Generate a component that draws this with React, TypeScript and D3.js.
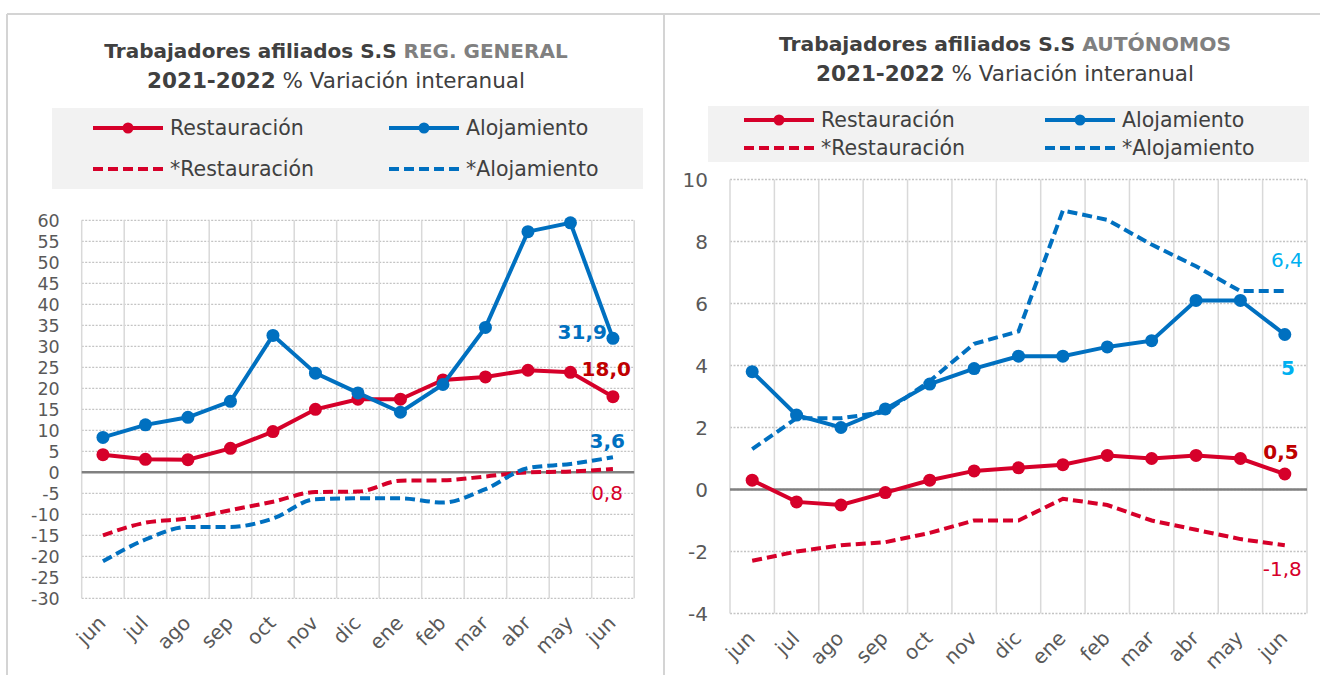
import React from 'react';
import * as d3 from 'd3';

// meses jun 2021 - jun 2022
const months = ['jun', 'jul', 'ago', 'sep', 'oct', 'nov', 'dic', 'ene', 'feb', 'mar', 'abr', 'may', 'jun'];

// REG. GENERAL
const genRestauracion = [4.2, 3.1, 3.0, 5.7, 9.7, 15.0, 17.4, 17.4, 22.0, 22.7, 24.3, 23.8, 18.0];
const genAlojamiento = [8.3, 11.3, 13.1, 16.9, 32.6, 23.6, 18.9, 14.3, 20.9, 34.5, 57.3, 59.4, 31.9];
const genRestauracionStar = [-15.0, -12.0, -11.0, -9.0, -7.0, -4.7, -4.6, -2.0, -1.9, -1.0, 0.0, 0.2, 0.8];
const genAlojamientoStar = [-21.2, -16.0, -13.0, -13.0, -11.0, -6.4, -6.2, -6.2, -7.2, -4.0, 1.0, 2.0, 3.6];
const genTicks = d3.range(-30, 61, 5);

// AUTÓNOMOS
const autRestauracion = [0.3, -0.4, -0.5, -0.1, 0.3, 0.6, 0.7, 0.8, 1.1, 1.0, 1.1, 1.0, 0.5];
const autAlojamiento = [3.8, 2.4, 2.0, 2.6, 3.4, 3.9, 4.3, 4.3, 4.6, 4.8, 6.1, 6.1, 5.0];
const autRestauracionStar = [-2.3, -2.0, -1.8, -1.7, -1.4, -1.0, -1.0, -0.3, -0.5, -1.0, -1.3, -1.6, -1.8];
const autAlojamientoStar = [1.3, 2.3, 2.3, 2.5, 3.5, 4.7, 5.1, 9.0, 8.7, 7.9, 7.2, 6.4, 6.4];
const autTicks = d3.range(-4, 11, 2);

const RED = '#d6002a';
const DARKRED = '#c00000';
const BLUE = '#0070c0';
const LIGHTBLUE = '#00b0f0';
const TXT = '#404040';
const FONT = '"DejaVu Sans", sans-serif';

const fmt = (v, dec) => v.toFixed(dec).replace('.', ',');

function Chart({ cx, titleGray, titleY, titleSize, legend, plot, domain, ticks, tickSize, series, labels, smoothDashed }) {
  const x = d3.scaleBand().domain(d3.range(months.length)).range([plot.left, plot.right]);
  const y = d3.scaleLinear().domain(domain).range([plot.bottom, plot.top]);
  const px = (i) => x(i) + x.bandwidth() / 2;

  const lineFor = (dashed) =>
    d3
      .line()
      .x((d, i) => px(i))
      .y((d) => y(d))
      .curve(dashed && smoothDashed ? d3.curveMonotoneX : d3.curveLinear);

  const last = months.length - 1;

  return (
    <g fontFamily={FONT}>
      {/* title */}
      <text x={cx} y={titleY[0]} textAnchor="middle" fontSize={titleSize[0]} fontWeight="bold" fill={TXT}>
        Trabajadores afiliados S.S <tspan fill="#808080">{titleGray}</tspan>
      </text>
      <text x={cx} y={titleY[1]} textAnchor="middle" fontSize={titleSize[1]} fill={TXT}>
        <tspan fontWeight="bold">2021-2022</tspan> % Variación interanual
      </text>

      {/* legend */}
      <rect x={legend.x} y={legend.y} width={legend.w} height={legend.h} fill="#f2f2f2" />
      {series.map((s, k) => {
        const col = k % 2;
        const row = Math.floor(k / 2);
        const lx = legend.cols[col];
        const ly = legend.rows[row];
        return (
          <g key={'lg' + k}>
            <line
              x1={lx}
              x2={lx + 70}
              y1={ly}
              y2={ly}
              stroke={s.color}
              strokeWidth={4}
              strokeDasharray={s.dashed ? '10 5' : null}
            />
            {!s.dashed && <circle cx={lx + 35} cy={ly} r={5.5} fill={s.color} />}
            <text x={lx + 77} y={ly} dy="0.36em" fontSize={20.5} fill={TXT}>
              {s.name}
            </text>
          </g>
        );
      })}

      {/* grid */}
      {ticks.map((t) => (
        <line
          key={'h' + t}
          x1={plot.left}
          x2={plot.right}
          y1={y(t)}
          y2={y(t)}
          stroke="#c4c4c4"
          strokeWidth={1.3}
          strokeDasharray="2 1.5"
        />
      ))}
      {d3.range(months.length + 1).map((i) => {
        const gx = i === months.length ? plot.right : x(i);
        return (
          <line key={'v' + i} x1={gx} x2={gx} y1={plot.top} y2={plot.bottom} stroke="#d9d9d9" strokeWidth={1.5} />
        );
      })}
      <line x1={plot.left} x2={plot.right} y1={y(0)} y2={y(0)} stroke="#808080" strokeWidth={2.5} />

      {/* y ticks */}
      {ticks.map((t) => (
        <text key={'yt' + t} x={plot.left - 22} y={y(t)} dy="0.36em" textAnchor="end" fontSize={tickSize} fill="#595959">
          {t}
        </text>
      ))}

      {/* x ticks */}
      {months.map((m, i) => (
        <text
          key={'xt' + i}
          textAnchor="end"
          fontSize={20}
          fill="#595959"
          transform={`translate(${px(i) + 4},${plot.bottom + 26}) rotate(-45)`}
        >
          {m}
        </text>
      ))}

      {/* series: dashed first, solid on top */}
      {series
        .filter((s) => s.dashed)
        .map((s) => (
          <path
            key={s.name}
            d={lineFor(true)(s.values)}
            fill="none"
            stroke={s.color}
            strokeWidth={4}
            strokeDasharray="10 5"
          />
        ))}
      {series
        .filter((s) => !s.dashed)
        .map((s) => (
          <g key={s.name}>
            <path d={lineFor(false)(s.values)} fill="none" stroke={s.color} strokeWidth={4} />
            {s.values.map((v, i) => (
              <circle key={i} cx={px(i)} cy={y(v)} r={6.5} fill={s.color} />
            ))}
          </g>
        ))}

      {/* last value labels */}
      {labels.map((l, k) => {
        const v = series[l.series].values[last];
        return (
          <text
            key={'lb' + k}
            x={px(last) + l.dx}
            y={y(v) + l.dy}
            textAnchor="end"
            fontSize={20}
            fontWeight={l.bold ? 'bold' : 'normal'}
            fill={l.color}
          >
            {fmt(v, l.dec)}
          </text>
        );
      })}
    </g>
  );
}

export default function App() {
  const genSeries = [
    { name: 'Restauración', values: genRestauracion, color: RED, dashed: false },
    { name: 'Alojamiento', values: genAlojamiento, color: BLUE, dashed: false },
    { name: '*Restauración', values: genRestauracionStar, color: RED, dashed: true },
    { name: '*Alojamiento', values: genAlojamientoStar, color: BLUE, dashed: true },
  ];
  const autSeries = [
    { name: 'Restauración', values: autRestauracion, color: RED, dashed: false },
    { name: 'Alojamiento', values: autAlojamiento, color: BLUE, dashed: false },
    { name: '*Restauración', values: autRestauracionStar, color: RED, dashed: true },
    { name: '*Alojamiento', values: autAlojamientoStar, color: BLUE, dashed: true },
  ];

  return (
    <svg
      width={1320}
      height={675}
      style={{ position: 'absolute', left: 0, top: 0, background: '#fff' }}
    >
      <rect width={1320} height={675} fill="#fff" />
      {/* frames */}
      <line x1={7} x2={1320} y1={14} y2={14} stroke="#d4d4d4" strokeWidth={2} />
      <line x1={7} x2={7} y1={14} y2={675} stroke="#d4d4d4" strokeWidth={2} />
      <line x1={664} x2={664} y1={14} y2={675} stroke="#d4d4d4" strokeWidth={2} />

      <Chart
        cx={336}
        titleGray="REG. GENERAL"
        titleY={[58, 88]}
        titleSize={[20, 21.5]}
        legend={{ x: 52, y: 108, w: 591, h: 81, cols: [93, 389], rows: [128, 169] }}
        plot={{ left: 81.7, right: 634.2, top: 220.3, bottom: 598.3 }}
        domain={[-30, 60]}
        ticks={genTicks}
        tickSize={17.5}
        series={genSeries}
        smoothDashed={true}
        labels={[
          { series: 1, dec: 1, bold: true, color: BLUE, dx: -6, dy: 1 },
          { series: 0, dec: 1, bold: true, color: DARKRED, dx: 18, dy: -21 },
          { series: 3, dec: 1, bold: true, color: BLUE, dx: 12, dy: -9 },
          { series: 2, dec: 1, bold: false, color: RED, dx: 10, dy: 31 },
        ]}
      />
      <Chart
        cx={1005}
        titleGray="AUTÓNOMOS"
        titleY={[51, 81]}
        titleSize={[20.3, 21.5]}
        legend={{ x: 708, y: 106, w: 601, h: 56, cols: [744, 1045], rows: [120, 148] }}
        plot={{ left: 730, right: 1307, top: 179.5, bottom: 613.5 }}
        domain={[-4, 10]}
        ticks={autTicks}
        tickSize={20}
        series={autSeries}
        smoothDashed={false}
        labels={[
          { series: 3, dec: 1, bold: false, color: LIGHTBLUE, dx: 18, dy: -24 },
          { series: 1, dec: 0, bold: true, color: LIGHTBLUE, dx: 10, dy: 40 },
          { series: 0, dec: 1, bold: true, color: DARKRED, dx: 14, dy: -15 },
          { series: 2, dec: 1, bold: false, color: RED, dx: 17, dy: 31 },
        ]}
      />
    </svg>
  );
}
